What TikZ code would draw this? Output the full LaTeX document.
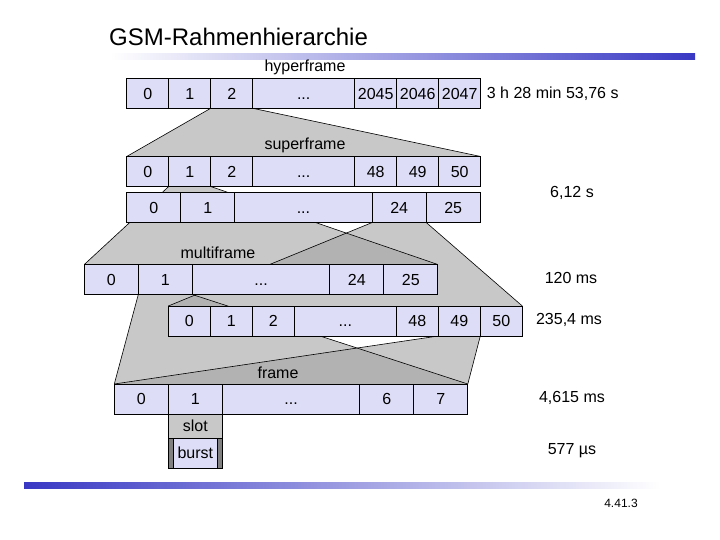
\documentclass[tikz,border=0pt]{standalone}
\usepackage{fontspec}
\setmainfont{Liberation Sans}
\usepackage{tikz}
\usetikzlibrary{positioning,backgrounds}
\definecolor{cellfill}{RGB}{221,221,247}
\definecolor{trapgray}{RGB}{200,200,200}
\definecolor{overgray}{RGB}{178,178,178}
\definecolor{bargray}{RGB}{128,128,128}
\definecolor{barblue}{RGB}{56,56,196}

\begin{document}
\begin{tikzpicture}[x=1pt, y=-1pt, font=\fontsize{16}{19}\selectfont, node distance=0pt,
  cell/.style={draw=black, line width=0.8pt, fill=cellfill, minimum height=30pt, minimum width=42pt, inner sep=0pt, outer sep=0pt, text height=11.5pt, text depth=0pt},
  wide/.style={cell, minimum width=54pt},
  gap/.style={cell, minimum width=102pt},
  widegap/.style={cell, minimum width=137.5pt},
  lbl/.style={inner sep=0pt},
  trap/.style={fill=trapgray},
  over/.style={fill=overgray},
  edge/.style={draw=black, line width=0.6pt}]
\useasboundingbox (0,0) rectangle (720,540);
\node[lbl, anchor=west, font=\fontsize{24}{28}\selectfont] (title) at (109,37) {GSM-Rahmenhierarchie};
\shade[left color=white, right color=barblue] (110,54) rectangle (695,60);
% hyperframe
\node[cell, anchor=north west] (hyp0) at (126.7,78.3) {0};
\node[cell, right=of hyp0] (hyp1) {1}; \node[cell, right=of hyp1] (hyp2) {2};
\node[gap, right=of hyp2] (hyp3) {...}; \node[cell, right=of hyp3] (hyp4) {2045};
\node[cell, right=of hyp4] (hyp5) {2046}; \node[cell, right=of hyp5] (hyp6) {2047};
\node[lbl] (lhyp) at (305,67) {hyperframe};
\node[lbl, right=6pt of hyp6] (thyp) {3 h 28 min 53,76 s};
% superframe, 51 x 26
\node[cell, anchor=north west] (sup0) at (126.7,156.5) {0};
\node[cell, right=of sup0] (sup1) {1}; \node[cell, right=of sup1] (sup2) {2};
\node[gap, right=of sup2] (sup3) {...}; \node[cell, right=of sup3] (sup4) {48};
\node[cell, right=of sup4] (sup5) {49}; \node[cell, right=of sup5] (sup6) {50};
\node[lbl] (lsup) at (305,145) {superframe};
% superframe, 26 x 51
\node[wide, anchor=north west] (supb0) at (126.7,192.5) {0};
\node[wide, right=of supb0] (supb1) {1}; \node[widegap, right=of supb1] (supb2) {...};
\node[wide, right=of supb2] (supb3) {24}; \node[wide, right=of supb3] (supb4) {25};
\node[lbl] (tsup) at (572,193) {6,12 s};
% multiframe, 26 frames
\node[wide, anchor=north west] (mul0) at (84.3,264.5) {0};
\node[wide, right=of mul0] (mul1) {1}; \node[widegap, right=of mul1] (mul2) {...};
\node[wide, right=of mul2] (mul3) {24}; \node[wide, right=of mul3] (mul4) {25};
\node[lbl] (lmul) at (218,253) {multiframe};
\node[lbl] (tmul) at (571,278) {120 ms};
% multiframe, 51 frames
\node[cell, anchor=north west] (mulb0) at (168.3,306) {0};
\node[cell, right=of mulb0] (mulb1) {1}; \node[cell, right=of mulb1] (mulb2) {2};
\node[gap, right=of mulb2] (mulb3) {...}; \node[cell, right=of mulb3] (mulb4) {48};
\node[cell, right=of mulb4] (mulb5) {49}; \node[cell, right=of mulb5] (mulb6) {50};
\node[lbl] (tmulb) at (569,320) {235,4 ms};
% frame, slot, burst
\node[wide, anchor=north west] (fra0) at (114.3,384) {0};
\node[wide, right=of fra0] (fra1) {1}; \node[widegap, right=of fra1] (fra2) {...};
\node[wide, right=of fra2] (fra3) {6}; \node[wide, right=of fra3] (fra4) {7};
\node[lbl] (lfra) at (278,373) {frame};
\node[lbl] (tfra) at (572,398) {4,615 ms};
\node[wide, fill=trapgray, minimum height=24pt, below=of fra1] (slot) {slot};
\node[wide, fill=bargray, below=of slot] (burstbox) {};
\node[cell, minimum width=44pt] (burst) at (burstbox) {burst};
\node[lbl] (tburst) at (572,451) {577 µs};
\shade[left color=barblue, right color=white] (24,482) rectangle (660,488);
\node[lbl, font=\fontsize{12}{14}\selectfont] (pagenr) at (621,503) {4.41.3};
\begin{pgfonlayer}{background}
\fill[trap] (hyp2.south west) -- (hyp2.south east) -- (sup6.north east) -- (sup0.north west) -- cycle;
\fill[trap] (sup1.south west) -- (sup1.south east) -- (mul4.north east) -- (mul0.north west) -- cycle;
\fill[trap] (supb3.south west) -- (supb3.south east) -- (mulb6.north east) -- (mulb0.north west) -- cycle;
\fill[trap] (mul1.south west) -- (mul1.south east) -- (fra4.north east) -- (fra0.north west) -- cycle;
\fill[trap] (mulb5.south west) -- (mulb5.south east) -- (fra4.north east) -- (fra0.north west) -- cycle;
% darker where two fans overlap
\begin{scope}
\clip (sup1.south west) -- (sup1.south east) -- (mul4.north east) -- (mul0.north west) -- cycle;
\fill[over] (supb3.south west) -- (supb3.south east) -- (mulb6.north east) -- (mulb0.north west) -- cycle;
\end{scope}
\begin{scope}
\clip (supb3.south west) -- (supb3.south east) -- (mulb6.north east) -- (mulb0.north west) -- cycle;
\fill[over] (mul1.south west) -- (mul1.south east) -- (fra4.north east) -- (fra0.north west) -- cycle;
\end{scope}
\begin{scope}
\clip (mul1.south west) -- (mul1.south east) -- (fra4.north east) -- (fra0.north west) -- cycle;
\fill[over] (mulb5.south west) -- (mulb5.south east) -- (fra4.north east) -- (fra0.north west) -- cycle;
\end{scope}
\draw[edge] (hyp2.south west) -- (sup0.north west) (hyp2.south east) -- (sup6.north east);
\draw[edge] (sup1.south west) -- (mul0.north west) (sup1.south east) -- (mul4.north east);
\draw[edge] (supb3.south west) -- (mulb0.north west) (supb3.south east) -- (mulb6.north east);
\draw[edge] (mul1.south west) -- (fra0.north west) (mul1.south east) -- (fra4.north east);
\draw[edge] (mulb5.south west) -- (fra0.north west) (mulb5.south east) -- (fra4.north east);
\end{pgfonlayer}
\end{tikzpicture}
\end{document}
